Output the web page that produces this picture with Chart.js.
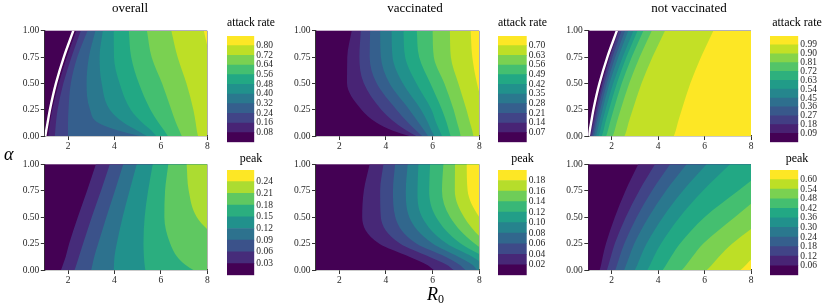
<!DOCTYPE html>
<html><head><meta charset="utf-8">
<script src="https://cdn.jsdelivr.net/npm/chart.js@4.4.1/dist/chart.umd.min.js"></script>
<style>
html,body{margin:0;padding:0;background:#fff;}
#fig{position:relative;width:830px;height:307px;overflow:hidden;}
canvas{position:absolute;}
.lbl{position:absolute;font-family:"Liberation Serif",serif;color:#000;white-space:nowrap;line-height:18px;}
</style></head><body><div id="fig">
<canvas id="pA" width="260" height="154" style="left:0px;top:0px"></canvas>
<canvas id="pB" width="290" height="154" style="left:270px;top:0px"></canvas>
<canvas id="pC" width="282" height="154" style="left:548px;top:0px"></canvas>
<canvas id="pD" width="260" height="133" style="left:0px;top:155px"></canvas>
<canvas id="pE" width="290" height="133" style="left:270px;top:155px"></canvas>
<canvas id="pF" width="282" height="133" style="left:548px;top:155px"></canvas>
<canvas id="cA" width="48" height="150" style="left:227px;top:0px"></canvas>
<canvas id="cB" width="49" height="150" style="left:498px;top:0px"></canvas>
<canvas id="cC" width="54" height="150" style="left:770px;top:0px"></canvas>
<canvas id="cD" width="48" height="138" style="left:227px;top:145px"></canvas>
<canvas id="cE" width="49" height="138" style="left:498px;top:145px"></canvas>
<canvas id="cF" width="54" height="138" style="left:770px;top:145px"></canvas>
<div class="lbl" style="left:4px;top:145px;font-size:18px;font-style:italic;">α</div>
<div class="lbl" style="left:427px;top:285px;font-size:18px;"><i>R</i><span style="font-size:12px;position:relative;top:3px;">0</span></div>
</div>
<script>
// ---------------- data ----------------
const alphaSamples = [0, 0.05, 0.125, 0.25, 0.5, 0.75, 1];
const r0Ticks = [2, 4, 6, 8];
const alphaTicks = [0, 0.25, 0.5, 0.75, 1];
const panelTitles = ['overall', 'vaccinated', 'not vaccinated'];
const rowTitles = ['attack rate', 'peak'];

// white threshold curve (R0 at each alpha sample)
const thresholdR0 = [1.02, 1.06, 1.12, 1.22, 1.48, 1.82, 2.23];

// overall – attack rate
const overallAttackLevels = [0.08, 0.16, 0.24, 0.32, 0.40, 0.48, 0.56, 0.64, 0.72, 0.80];
const overallAttackContours = [
  [1.15, 1.17, 1.22, 1.32, 1.60, 1.95, 2.35],
  [1.43, 1.45, 1.48, 1.55, 1.80, 2.15, 2.55],
  [2.00, 2.00, 2.00, 2.02, 2.12, 2.40, 2.84],
  [5.10, 4.20, 3.30, 2.95, 2.80, 2.90, 3.18],
  [5.40, 5.00, 4.40, 3.80, 3.45, 3.36, 3.50],
  [5.80, 5.60, 5.20, 4.70, 4.22, 3.98, 3.97],
  [6.30, 6.15, 5.90, 5.55, 5.05, 4.72, 4.62],
  [6.90, 6.80, 6.65, 6.45, 6.05, 5.60, 5.40],
  [7.60, 7.55, 7.50, 7.40, 7.10, 6.72, 6.45],
  [8.80, 8.80, 8.75, 8.70, 8.50, 8.12, 7.85]
];

// vaccinated – attack rate
const vaccAttackLevels = [0.07, 0.14, 0.21, 0.28, 0.35, 0.42, 0.49, 0.56, 0.63, 0.70];
const vaccAttackContours = [
  [5.00, 4.30, 3.60, 2.95, 2.33, 2.34, 2.53],
  [5.30, 4.90, 4.40, 3.80, 3.05, 2.86, 2.92],
  [5.55, 5.30, 4.95, 4.45, 3.60, 3.30, 3.32],
  [5.80, 5.65, 5.40, 5.00, 4.15, 3.78, 3.75],
  [6.08, 5.95, 5.80, 5.50, 4.72, 4.28, 4.24],
  [6.40, 6.30, 6.15, 5.95, 5.30, 4.82, 4.75],
  [6.77, 6.70, 6.60, 6.40, 5.90, 5.42, 5.32],
  [7.20, 7.15, 7.05, 6.90, 6.50, 6.05, 6.00],
  [7.75, 7.70, 7.60, 7.45, 7.10, 6.78, 6.74],
  [8.45, 8.40, 8.35, 8.20, 7.90, 7.70, 7.63]
];

// not vaccinated – attack rate
const unvaccAttackLevels = [0.09, 0.18, 0.27, 0.36, 0.45, 0.54, 0.63, 0.72, 0.81, 0.90, 0.99];
const unvaccAttackContours = [
  [1.05, 1.10, 1.17, 1.30, 1.57, 1.90, 2.28],
  [1.11, 1.16, 1.23, 1.35, 1.62, 1.94, 2.32],
  [1.17, 1.23, 1.30, 1.42, 1.70, 2.04, 2.43],
  [1.24, 1.30, 1.37, 1.51, 1.80, 2.16, 2.58],
  [1.33, 1.39, 1.47, 1.61, 1.91, 2.29, 2.72],
  [1.44, 1.51, 1.59, 1.74, 2.07, 2.48, 2.94],
  [1.58, 1.65, 1.73, 1.89, 2.23, 2.64, 3.12],
  [1.77, 1.84, 1.93, 2.09, 2.44, 2.87, 3.37],
  [2.05, 2.13, 2.22, 2.39, 2.76, 3.21, 3.73],
  [2.56, 2.64, 2.73, 2.91, 3.29, 3.76, 4.30],
  [4.68, 4.76, 4.85, 5.02, 5.39, 5.85, 6.38]
];

// overall – peak
const overallPeakLevels = [0.03, 0.06, 0.09, 0.12, 0.15, 0.18, 0.21, 0.24];
const overallPeakContours = [
  [1.70, 1.78, 1.90, 2.05, 2.42, 2.82, 3.20],
  [2.28, 2.36, 2.47, 2.65, 3.02, 3.42, 3.80],
  [3.00, 3.05, 3.13, 3.30, 3.65, 4.02, 4.38],
  [3.97, 3.98, 4.00, 4.10, 4.35, 4.65, 4.96],
  [5.33, 5.30, 5.27, 5.25, 5.30, 5.45, 5.65],
  [7.40, 7.05, 6.70, 6.40, 6.15, 6.18, 6.32],
  [9.50, 9.30, 9.00, 8.60, 7.55, 7.20, 7.11],
  [11.0, 11.0, 11.0, 10.8, 10.0, 9.50, 9.20]
];

// vaccinated – peak
const vaccPeakLevels = [0.02, 0.04, 0.06, 0.08, 0.10, 0.12, 0.14, 0.16, 0.18];
const vaccPeakContours = [
  [6.05, 5.75, 5.00, 3.70, 2.98, 3.05, 3.30],
  [6.90, 6.60, 5.85, 4.60, 3.78, 3.75, 3.89],
  [7.40, 7.15, 6.55, 5.30, 4.40, 4.30, 4.39],
  [7.90, 7.70, 7.10, 6.00, 5.00, 4.85, 4.93],
  [8.40, 8.20, 7.70, 6.60, 5.55, 5.35, 5.39],
  [9.00, 8.80, 8.20, 7.20, 6.15, 5.85, 5.89],
  [9.60, 9.30, 8.70, 7.80, 6.75, 6.40, 6.46],
  [10.2, 9.80, 9.20, 8.35, 7.35, 6.95, 6.96],
  [10.8, 10.4, 9.80, 9.00, 8.00, 7.50, 7.46]
];

// not vaccinated – peak
const unvaccPeakLevels = [0.06, 0.12, 0.18, 0.24, 0.30, 0.36, 0.42, 0.48, 0.54, 0.60];
const unvaccPeakContours = [
  [1.49, 1.55, 1.62, 1.76, 2.14, 2.60, 3.15],
  [1.80, 1.87, 1.97, 2.14, 2.61, 3.19, 3.87],
  [2.16, 2.24, 2.35, 2.55, 3.08, 3.74, 4.52],
  [2.54, 2.63, 2.76, 2.98, 3.59, 4.34, 5.23],
  [3.00, 3.11, 3.25, 3.51, 4.21, 5.07, 6.09],
  [3.54, 3.66, 3.82, 4.13, 4.93, 5.93, 7.10],
  [4.20, 4.35, 4.56, 4.95, 6.00, 7.45, 8.90],
  [5.03, 5.22, 5.48, 5.95, 7.30, 8.70, 10.3],
  [6.10, 6.32, 6.62, 7.20, 8.70, 10.3, 12.0],
  [7.55, 7.79, 8.11, 8.70, 10.3, 12.2, 14.5]
];

// ---------------- style helpers ----------------
const R0_MIN = 1, R0_MAX = 8;
const SERIF = '"Liberation Serif", "Times New Roman", serif';
const TICK_COLOR = '#262626';
const VIRIDIS = ['#440154','#482475','#414487','#355f8d','#2a788e','#21918c','#22a884','#44bf70','#7ad151','#bddf26','#fde725'];
function hexToRgb(h){return [1,3,5].map(i=>parseInt(h.substr(i,2),16));}
function viridis(t){
  const p = Math.max(0, Math.min(1, t)) * (VIRIDIS.length - 1);
  const i = Math.min(VIRIDIS.length - 2, Math.floor(p)); const f = p - i;
  const a = hexToRgb(VIRIDIS[i]), b = hexToRgb(VIRIDIS[i+1]);
  return 'rgb(' + a.map((v,k)=>Math.round(v + (b[k]-v)*f)).join(',') + ')';
}
function bandColours(n){ const out=[]; for(let k=0;k<n;k++) out.push(viridis(n===1?0:k/(n-1))); return out; }

const bandBackground = {
  id: 'bandBackground',
  beforeDatasetsDraw(chart, args, opts){
    const {ctx, chartArea: a} = chart;
    ctx.save(); ctx.fillStyle = opts.color;
    ctx.fillRect(a.left, a.top, a.right - a.left, a.bottom - a.top);
    ctx.restore();
  }
};

// cfg.axisWidth: left axis width; cfg.rightSpace: empty space right of the plot (canvas coords)
function makePanel(id, cfg){
  const colours = bandColours(cfg.levels.length + 1);
  const n = cfg.levels.length;
  const datasets = cfg.contours.map((xs, k) => ({
    xAxisID: 'x', yAxisID: 'y',
    data: alphaSamples.map((a, i) => ({x: xs[i], y: a})),
    backgroundColor: colours[k + 1],
    borderColor: 'rgba(0,0,0,0)',
    borderWidth: 0,
    pointRadius: 0,
    fill: {target: {value: R0_MAX}},
    cubicInterpolationMode: 'monotone',
    capBezierPoints: false,
    order: n - k
  }));
  if (cfg.threshold) {
    datasets.push({
      xAxisID: 'x', yAxisID: 'y',
      data: alphaSamples.map((a, i) => ({x: thresholdR0[i], y: a})),
      borderColor: '#ffffff', borderWidth: 2.4, pointRadius: 0, fill: false,
      cubicInterpolationMode: 'monotone', capBezierPoints: false, order: -1
    });
  }
  const tickFont = {family: SERIF, size: 9.5};
  const axisCommon = {
    grid: {display: true, drawOnChartArea: false, drawTicks: true, tickLength: 4, color: '#333', lineWidth: 1},
    border: {display: true, color: '#333', width: 1.3}
  };
  return new Chart(document.getElementById(id), {
    type: 'line',
    data: {datasets},
    options: {
      indexAxis: 'y',
      responsive: false, animation: false, events: [], devicePixelRatio: 1,
      layout: {padding: {left: 0, top: cfg.padTop, right: 0, bottom: 0}},
      plugins: {
        legend: {display: false}, tooltip: {enabled: false},
        bandBackground: {color: colours[0]},
        title: cfg.title ? {display: true, text: cfg.title, color: '#000', fullSize: true,
          font: {family: SERIF, size: 13, weight: 'normal', lineHeight: 1}, padding: {top: 2.4, bottom: 15.3}} : {display: false}
      },
      scales: {
        x: Object.assign({}, axisCommon, {
          type: 'linear', min: R0_MIN, max: R0_MAX,
          afterBuildTicks: s => { s.ticks = r0Ticks.map(v => ({value: v})); },
          afterFit: s => { s.height = 18; },
          ticks: {font: tickFont, color: TICK_COLOR, padding: 1, maxRotation: 0, autoSkip: false, callback: v => String(v)}
        }),
        y: Object.assign({}, axisCommon, {
          type: 'linear', min: 0, max: 1,
          afterBuildTicks: s => { s.ticks = alphaTicks.map(v => ({value: v})); },
          afterFit: s => { s.width = cfg.axisWidth; },
          ticks: {font: tickFont, color: TICK_COLOR, padding: 1.5, autoSkip: false, callback: v => Number(v).toFixed(2)}
        }),
        // empty spacer on the right, keeps the title centred on the panel column
        ySpace: {
          axis: 'y', type: 'linear', position: 'right', display: true,
          grid: {display: false, drawTicks: false}, border: {display: false},
          ticks: {display: false},
          afterFit: s => { s.width = cfg.rightSpace; }
        }
      }
    },
    plugins: [bandBackground]
  });
}

function makeColorbar(id, cfg){
  const levels = cfg.levels;
  const n = levels.length + 1;
  const colours = bandColours(n);
  const step = levels[1] - levels[0];
  const bounds = [levels[0] - step].concat(levels, [levels[levels.length - 1] + step]);
  const datasets = colours.map((c, k) => ({
    data: [[bounds[k], bounds[k + 1]]], backgroundColor: c, borderWidth: 0,
    barPercentage: 1, categoryPercentage: 1, grouped: false
  }));
  return new Chart(document.getElementById(id), {
    type: 'bar',
    data: {labels: [''], datasets},
    options: {
      responsive: false, animation: false, events: [], devicePixelRatio: 1,
      layout: {padding: {left: 0, right: 0, top: 0, bottom: cfg.padBottom}},
      plugins: {
        legend: {display: false}, tooltip: {enabled: false},
        title: {display: true, text: cfg.title, color: '#000', fullSize: true,
          font: {family: SERIF, size: 12, weight: 'normal', lineHeight: 1}, padding: {top: cfg.titleTop, bottom: cfg.titleBottom}}
      },
      scales: {
        x: {display: false},
        y: {
          position: 'right', min: bounds[0], max: bounds[bounds.length - 1],
          afterBuildTicks: s => { s.ticks = levels.map(v => ({value: v})); },
          afterFit: s => { s.width = cfg.axisWidth; },
          grid: {display: false, drawTicks: false}, border: {display: false},
          ticks: {font: {family: SERIF, size: 9.5}, color: TICK_COLOR, padding: 2, autoSkip: false, callback: v => Number(v).toFixed(2)}
        }
      }
    }
  });
}

// ---------------- build ----------------
makePanel('pA', {levels: overallAttackLevels, contours: overallAttackContours, threshold: true, title: panelTitles[0], padTop: 0, rightSpace: 260 - 207.3, axisWidth: 44.8});
makePanel('pB', {levels: vaccAttackLevels, contours: vaccAttackContours, threshold: false, title: panelTitles[1], padTop: 0, rightSpace: 290 - 209.3, axisWidth: 46});
makePanel('pC', {levels: unvaccAttackLevels, contours: unvaccAttackContours, threshold: true, title: panelTitles[2], padTop: 0, rightSpace: 282 - 203, axisWidth: 40.3});
makePanel('pD', {levels: overallPeakLevels, contours: overallPeakContours, threshold: false, title: null, padTop: 9.3, rightSpace: 260 - 207.3, axisWidth: 44.8});
makePanel('pE', {levels: vaccPeakLevels, contours: vaccPeakContours, threshold: false, title: null, padTop: 9.3, rightSpace: 290 - 209.3, axisWidth: 46});
makePanel('pF', {levels: unvaccPeakLevels, contours: unvaccPeakContours, threshold: false, title: null, padTop: 9.3, rightSpace: 282 - 203, axisWidth: 40.3});

makeColorbar('cA', {levels: overallAttackLevels, title: rowTitles[0], axisWidth: 48 - 27.3, titleTop: 16.4, titleBottom: 7.6, padBottom: 1.7});
makeColorbar('cB', {levels: vaccAttackLevels, title: rowTitles[0], axisWidth: 49 - 28.7, titleTop: 16.4, titleBottom: 7.6, padBottom: 1.7});
makeColorbar('cC', {levels: unvaccAttackLevels, title: rowTitles[0], axisWidth: 54 - 28.3, titleTop: 16.4, titleBottom: 7.6, padBottom: 1.7});
makeColorbar('cD', {levels: overallPeakLevels, title: rowTitles[1], axisWidth: 48 - 27.3, titleTop: 7.4, titleBottom: 5.6, padBottom: 1.3});
makeColorbar('cE', {levels: vaccPeakLevels, title: rowTitles[1], axisWidth: 49 - 28.7, titleTop: 7.4, titleBottom: 5.6, padBottom: 1.3});
makeColorbar('cF', {levels: unvaccPeakLevels, title: rowTitles[1], axisWidth: 54 - 28.3, titleTop: 7.4, titleBottom: 5.6, padBottom: 1.3});
</script>
</body></html>
